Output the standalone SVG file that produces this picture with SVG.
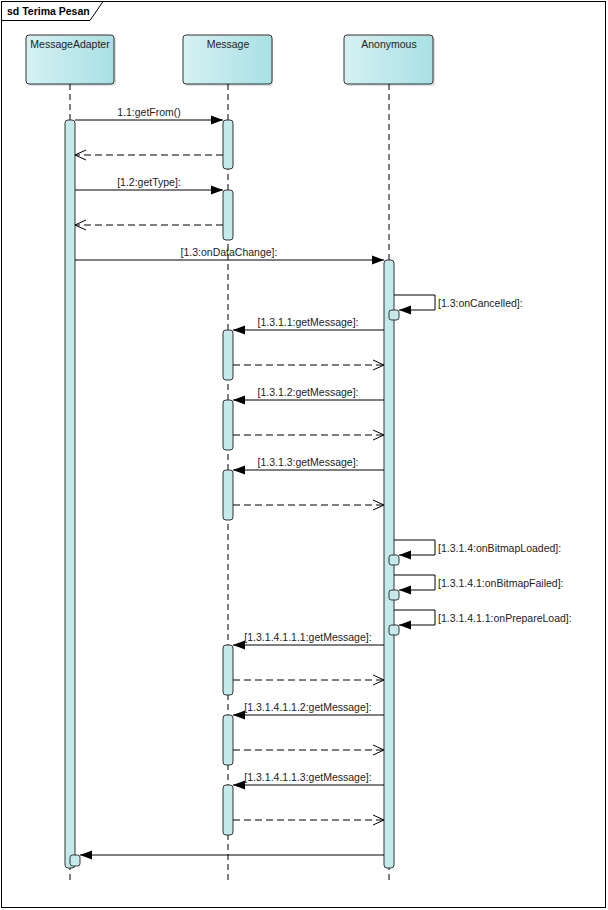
<svg xmlns="http://www.w3.org/2000/svg" width="608" height="910" viewBox="0 0 608 910">
<style>
text{font-family:"Liberation Sans",Arial,sans-serif;font-size:10.5px;fill:#222}
.title{font-weight:bold;font-size:10.5px;fill:#000}
.mid{text-anchor:middle}
.box{fill:url(#g);stroke:#333;stroke-width:1}
.shadow{fill:#bbb;opacity:.5}
.life{stroke:#000;stroke-width:1;stroke-dasharray:6,4;fill:none}
.act{fill:#c4eaec;stroke:#333;stroke-width:1}
.call{stroke:#000;stroke-width:1;fill:none;marker-end:url(#fa)}
.ret{stroke:#000;stroke-width:1;fill:none;stroke-dasharray:7,4;marker-end:url(#oa)}
</style>
<defs>
<linearGradient id="g" x1="0" y1="0" x2="1" y2="0">
<stop offset="0" stop-color="#d6f1f3"/>
<stop offset="1" stop-color="#a8e0e4"/>
</linearGradient>
<marker id="fa" markerUnits="userSpaceOnUse" markerWidth="14" markerHeight="12" viewBox="-13 -6 14 12" refX="0" refY="0" orient="auto">
<path d="M0,0 L-12,-4.5 L-12,4.5 Z" fill="#000" stroke="none"/>
</marker>
<marker id="oa" markerUnits="userSpaceOnUse" markerWidth="14" markerHeight="14" viewBox="-13 -7 14 14" refX="0" refY="0" orient="auto">
<path d="M-11,-5 L0,0 L-11,5" fill="none" stroke="#000" stroke-width="1" stroke-dasharray="none"/>
</marker>
</defs>
<rect x="0" y="0" width="608" height="910" fill="#fff"/>
<g id="frame">
<rect x="1.5" y="1.5" width="604" height="906" fill="none" stroke="#000" stroke-width="1"/>
<path d="M1.5,20.5 H90 L103,1.5" fill="none" stroke="#000" stroke-width="1"/>
<text class="title" x="7" y="15">sd Terima Pesan</text>
</g>
<g id="lifeline-MessageAdapter">
<rect class="shadow" x="28" y="37" width="88" height="49" rx="3"/>
<rect class="box" x="26" y="35" width="88" height="49" rx="3"/>
<text class="mid" x="70" y="48">MessageAdapter</text>
<line class="life" x1="70" y1="84" x2="70" y2="884"/>
<rect class="act" x="65" y="120" width="10" height="748" rx="3"/>
<rect class="act" x="70" y="855" width="10" height="11" rx="2.5"/>
</g>
<g id="lifeline-Message">
<rect class="shadow" x="185" y="37" width="88" height="49" rx="3"/>
<rect class="box" x="183" y="35" width="89" height="49" rx="3"/>
<text class="mid" x="228" y="48">Message</text>
<line class="life" x1="228" y1="84" x2="228" y2="884"/>
<rect class="act" x="223" y="120" width="10" height="49" rx="3"/>
<rect class="act" x="223" y="190" width="10" height="50" rx="3"/>
<rect class="act" x="223" y="330" width="10" height="50" rx="3"/>
<rect class="act" x="223" y="400" width="10" height="50" rx="3"/>
<rect class="act" x="223" y="470" width="10" height="50" rx="3"/>
<rect class="act" x="223" y="645" width="10" height="50" rx="3"/>
<rect class="act" x="223" y="715" width="10" height="50" rx="3"/>
<rect class="act" x="223" y="785" width="10" height="50" rx="3"/>
</g>
<g id="lifeline-Anonymous">
<rect class="shadow" x="346" y="37" width="89" height="49" rx="3"/>
<rect class="box" x="344" y="35" width="89" height="49" rx="3"/>
<text class="mid" x="389" y="48">Anonymous</text>
<line class="life" x1="389" y1="84" x2="389" y2="884"/>
<rect class="act" x="384" y="260" width="10" height="608" rx="3"/>
<rect class="act" x="389" y="310" width="10" height="10" rx="2.5"/>
<rect class="act" x="389" y="555" width="10" height="10" rx="2.5"/>
<rect class="act" x="389" y="590" width="10" height="10" rx="2.5"/>
<rect class="act" x="389" y="625" width="10" height="10" rx="2.5"/>
</g>
<g id="connectors">
<line class="call" x1="75" y1="120" x2="223" y2="120"/>
<text class="mid" x="149" y="116">1.1:getFrom()</text>
<line class="ret" x1="223" y1="155" x2="75" y2="155"/>
<line class="call" x1="75" y1="190" x2="223" y2="190"/>
<text class="mid" x="149" y="186">[1.2:getType]:</text>
<line class="ret" x1="223" y1="225" x2="75" y2="225"/>
<line class="call" x1="75" y1="260" x2="384" y2="260"/>
<text class="mid" x="229" y="256">[1.3:onDataChange]:</text>
<path class="call" d="M394,295 H435 V310 H399"/>
<text x="438" y="307">[1.3:onCancelled]:</text>
<line class="call" x1="384" y1="330" x2="233" y2="330"/>
<text class="mid" x="308" y="326">[1.3.1.1:getMessage]:</text>
<line class="ret" x1="233" y1="365" x2="384" y2="365"/>
<line class="call" x1="384" y1="400" x2="233" y2="400"/>
<text class="mid" x="308" y="396">[1.3.1.2:getMessage]:</text>
<line class="ret" x1="233" y1="435" x2="384" y2="435"/>
<line class="call" x1="384" y1="470" x2="233" y2="470"/>
<text class="mid" x="308" y="466">[1.3.1.3:getMessage]:</text>
<line class="ret" x1="233" y1="505" x2="384" y2="505"/>
<path class="call" d="M394,540 H435 V555 H399"/>
<text x="438" y="552">[1.3.1.4:onBitmapLoaded]:</text>
<path class="call" d="M394,575 H435 V590 H399"/>
<text x="438" y="587">[1.3.1.4.1:onBitmapFailed]:</text>
<path class="call" d="M394,610 H435 V625 H399"/>
<text x="438" y="622">[1.3.1.4.1.1:onPrepareLoad]:</text>
<line class="call" x1="384" y1="645" x2="233" y2="645"/>
<text class="mid" x="308" y="641">[1.3.1.4.1.1.1:getMessage]:</text>
<line class="ret" x1="233" y1="680" x2="384" y2="680"/>
<line class="call" x1="384" y1="715" x2="233" y2="715"/>
<text class="mid" x="308" y="711">[1.3.1.4.1.1.2:getMessage]:</text>
<line class="ret" x1="233" y1="750" x2="384" y2="750"/>
<line class="call" x1="384" y1="785" x2="233" y2="785"/>
<text class="mid" x="308" y="781">[1.3.1.4.1.1.3:getMessage]:</text>
<line class="ret" x1="233" y1="820" x2="384" y2="820"/>
<line class="call" x1="384" y1="855" x2="80" y2="855"/>
</g>
</svg>
